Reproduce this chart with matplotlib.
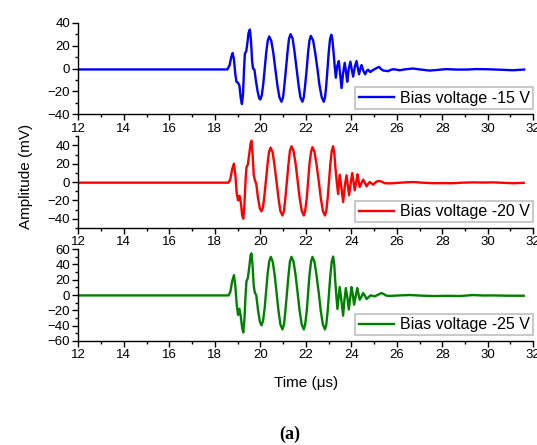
"""
Ultrasonic burst response recorded at three bias voltages
"""
import matplotlib
matplotlib.use('Agg')
import matplotlib.pyplot as plt
from matplotlib.ticker import MultipleLocator

plt.rcParams['font.family'] = ['Liberation Sans', 'DejaVu Sans']

# time (us) and amplitude (mV) for each bias setting
t_15 = [12.0, 18.55, 18.65, 18.72, 18.78, 18.84, 18.90, 18.95, 19.02, 19.08,
        19.14, 19.19, 19.24, 19.28, 19.32, 19.38, 19.43, 19.48, 19.54, 19.59,
        19.64, 19.68, 19.74, 19.80, 19.88, 19.95, 20.00,
        20.065, 20.13, 20.195, 20.26, 20.325, 20.39,
        20.48, 20.57, 20.66, 20.75, 20.84, 20.93,
        21.00, 21.06, 21.13, 21.20, 21.26, 21.33,
        21.42, 21.50, 21.59, 21.68, 21.76, 21.85,
        21.91, 21.97, 22.04, 22.10, 22.16, 22.22,
        22.32, 22.41, 22.51, 22.60, 22.70, 22.79,
        22.845, 22.90, 22.955, 23.01, 23.065, 23.12,
        23.17, 23.22, 23.27, 23.32, 23.38, 23.45, 23.51, 23.57, 23.64, 23.71,
        23.77, 23.82, 23.89, 23.96, 24.02, 24.08, 24.16, 24.23, 24.29, 24.34,
        24.40, 24.45, 24.53, 24.61, 24.68, 24.74, 24.80, 24.84, 24.94, 25.03,
        25.12, 25.22, 25.31, 25.40, 25.51, 25.62, 25.73, 25.84, 25.98, 26.13,
        26.40, 26.72, 27.10, 27.45, 27.80, 28.18, 28.60, 29.06, 29.50, 29.94,
        30.50, 31.11, 31.60]
v_15 = [-0.8, -0.8, 3, 10, 13.5, 8, -5, -11.5, -12.5, -15,
        -26, -31, -22, -2, 13, 15, 22, 31, 34, 24,
        6, 0, -1, -10, -20, -26, -27,
        -23.3, -13.2, 0.5, 14.2, 24.3, 28,
        24.2, 13.7, -0.5, -14.7, -25.2, -29,
        -25.0, -14.2, 0.5, 15.2, 26.0, 30,
        26.0, 15.2, 0.5, -14.2, -25.0, -29,
        -25.1, -14.6, -0.2, 14.1, 24.6, 28.5,
        24.6, 14.1, -0.2, -14.6, -25.1, -29,
        -25.1, -14.4, 0.2, 14.9, 25.6, 29.5,
        25, 14, 2, -8, 2, 6.5, -5, -17, -4, 5,
        -3, -11.5, 0, 6, -1, -7, 2, 6.5, 0, -5,
        0, 3, -2, -5, -2, -1, -2.5, -3, -1.5, -0.5,
        0.5, 1.4, -0.5, -1.7, -2, -2.3, -1.2, -0.6, -1, -1.5,
        -0.6, 0, -1, -1.8, -1.2, -0.5, -0.9, -0.9, -0.5, -0.6,
        -1.0, -1.5, -0.9]

t_20 = [12.0, 18.60, 18.68, 18.76, 18.84, 18.90, 18.96, 19.02, 19.08, 19.14,
        19.20, 19.25, 19.30, 19.35, 19.39, 19.45, 19.52, 19.57, 19.61, 19.66,
        19.71, 19.76, 19.82, 19.90, 19.98, 20.05,
        20.12, 20.18, 20.25, 20.32, 20.38, 20.45,
        20.54, 20.62, 20.71, 20.80, 20.88, 20.97,
        21.04, 21.10, 21.17, 21.24, 21.30, 21.37,
        21.46, 21.55, 21.64, 21.73, 21.82, 21.91,
        21.97, 22.04, 22.10, 22.16, 22.23, 22.29,
        22.38, 22.47, 22.57, 22.66, 22.75, 22.84,
        22.90, 22.96, 23.02, 23.08, 23.14, 23.20,
        23.25, 23.30, 23.36, 23.42, 23.49, 23.56, 23.64,
        23.72, 23.79, 23.85, 23.90, 23.97, 24.04, 24.10, 24.15, 24.21, 24.27,
        24.32, 24.37, 24.45, 24.52, 24.60, 24.67, 24.74, 24.81, 24.89, 24.96,
        25.04, 25.11, 25.20, 25.28, 25.37, 25.47, 25.65, 25.84, 26.30, 26.72,
        27.15, 27.60, 28.05, 28.48, 28.90, 29.36, 29.80, 30.23, 30.70, 31.11,
        31.58]
v_20 = [-0.7, -0.7, 3, 14, 20, 8, -12, -20, -15, -22,
        -36, -40, -25, 2, 16, 19, 32, 42, 45, 30,
        8, 2, -2, -18, -29, -32,
        -27.3, -14.6, 2.7, 20.1, 32.8, 37.5,
        32.5, 19.0, 0.5, -18.0, -31.5, -36.5,
        -31.4, -17.6, 1.2, 20.1, 33.9, 39,
        33.9, 20.1, 1.2, -17.6, -31.4, -36.5,
        -31.5, -17.9, 0.7, 19.4, 33.0, 38,
        33.0, 19.4, 0.7, -17.9, -31.5, -36.5,
        -31.4, -17.6, 1.2, 20.1, 33.9, 39,
        32, 16, 0, -13, 8, -5, -21.8,
        -3, 7.3, -4, -14.5, -2, 9.8, 0, -9, -1, 8.4,
        1, -5.4, -1, 2.6, -1, -4.7, -2, 0, -1.5, -2.9,
        -1, 0.5, 1, 0.9, 0, -1.3, -1.5, -1.3, -0.5, 0,
        -0.8, -1.3, -1.2, -1.3, -0.7, -0.4, -0.6, -0.4, -0.9, -1.3,
        -0.9]

t_25 = [12.0, 18.60, 18.68, 18.76, 18.84, 18.90, 18.96, 19.02, 19.08, 19.14,
        19.20, 19.25, 19.30, 19.35, 19.39, 19.45, 19.52, 19.57, 19.61, 19.66,
        19.71, 19.76, 19.82, 19.90, 19.98, 20.05,
        20.12, 20.19, 20.255, 20.32, 20.39, 20.46,
        20.545, 20.63, 20.715, 20.80, 20.885, 20.97,
        21.04, 21.10, 21.17, 21.24, 21.30, 21.37,
        21.46, 21.55, 21.64, 21.73, 21.82, 21.91,
        21.97, 22.04, 22.10, 22.16, 22.23, 22.29,
        22.38, 22.47, 22.57, 22.66, 22.75, 22.84,
        22.90, 22.96, 23.02, 23.08, 23.14, 23.20,
        23.25, 23.29, 23.34, 23.39, 23.49, 23.56, 23.64,
        23.70, 23.76, 23.83, 23.89, 23.95, 24.01, 24.07, 24.12, 24.19, 24.26,
        24.31, 24.37, 24.45, 24.52, 24.60, 24.67, 24.75, 24.84, 24.94, 25.03,
        25.18, 25.33, 25.44, 25.55, 25.70, 25.84, 26.20, 26.57, 27.10, 27.60,
        28.20, 28.77, 29.36, 29.80, 30.23, 30.90, 31.58]
v_25 = [-0.5, -0.5, 4, 18, 26, 12, -12, -26, -18, -28,
        -43, -49, -32, 0, 18, 22, 38, 52, 54.5, 38,
        12, 3, 0, -20, -35, -39.6,
        -33.6, -17.2, 5.2, 27.6, 44.0, 50,
        43.6, 26.2, 2.5, -21.2, -38.6, -45,
        -38.6, -21.2, 2.5, 26.2, 43.6, 50,
        43.6, 26.2, 2.5, -21.2, -38.6, -45,
        -38.6, -21.2, 2.5, 26.2, 43.6, 50,
        43.6, 26.2, 2.5, -21.2, -38.6, -45,
        -38.6, -21.2, 2.5, 26.4, 43.8, 50.3,
        40, 20, 0, -18.3, 10.4, -6, -27,
        -6, 9.1, -4, -19, -4, 10.4, 0, -12.6, -2, 9.1,
        2, -6.1, -2, 2.6, -1, -5.2, -3, -0.5, -1, -1.8,
        0.5, 2.6, 1, -0.9, -1.2, -0.9, -0.4, 0, -0.8, -1.3,
        -1.0, -1.3, 0, -0.6, -0.5, -0.9, -0.9]

series = [(t_15, v_15, 'Bias voltage -15 V', 'blue', (-40, 40)),
          (t_20, v_20, 'Bias voltage -20 V', 'red', (-50, 50)),
          (t_25, v_25, 'Bias voltage -25 V', 'green', (-60, 60))]

fig = plt.figure(figsize=(5.37, 4.45), dpi=100)
left, width, height = 0.146, 0.847, 0.206
bottoms = [0.743, 0.488, 0.234]

for (tt, vv, label, colour, ylim), bottom in zip(series, bottoms):
    ax = fig.add_axes([left, bottom, width, height])
    ax.plot(tt, vv, color=colour, lw=1.7, label=label)
    ax.set_xlim(12, 32)
    ax.set_ylim(*ylim)
    ax.xaxis.set_major_locator(MultipleLocator(2))
    ax.xaxis.set_minor_locator(MultipleLocator(1))
    ax.yaxis.set_major_locator(MultipleLocator(20))
    ax.yaxis.set_minor_locator(MultipleLocator(10))
    for side in ('top', 'right'):
        ax.spines[side].set_visible(False)
    for side in ('left', 'bottom'):
        ax.spines[side].set_linewidth(1.0)
    ax.tick_params(which='major', direction='out', length=4, width=1.0,
                   labelsize=9.5, pad=2)
    ax.tick_params(which='minor', direction='out', length=2.5, width=1.0)
    leg = ax.legend(loc='lower right', bbox_to_anchor=(1.0, 0.06),
                    fontsize=11.5, frameon=True, fancybox=False,
                    borderpad=0.2, handlelength=2.2, handletextpad=0.4,
                    borderaxespad=0.0)
    leg.get_frame().set_edgecolor('#b0b0b0')
    leg.get_frame().set_linewidth(1.2)

fig.text(0.048, 0.604, 'Amplitude (mV)', rotation=90, fontsize=11,
         ha='center', va='center')
fig.text(0.570, 0.139, 'Time (\u03bcs)', fontsize=11, ha='center',
         va='center')
fig.text(0.540, 0.025, '(a)', fontsize=13, fontweight='bold',
         family='Liberation Serif', ha='center', va='center')

fig.savefig('out.png', dpi=100)
